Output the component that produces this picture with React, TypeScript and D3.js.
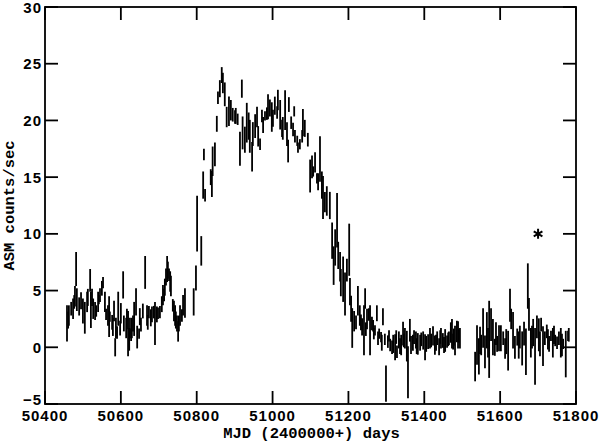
import React from "react";
import * as d3 from "d3";

// ASM one-day averages (MJD, rate, 1-sigma error)
const MJD = [
  50458, 50461, 50463, 50469, 50474, 50477, 50479, 50482, 50484, 50490,
  50495, 50500, 50505, 50511, 50513, 50519, 50521, 50524, 50527, 50532,
  50535, 50540, 50542, 50545, 50550, 50553, 50558, 50561, 50566, 50569,
  50571, 50577, 50579, 50582, 50585, 50587, 50590, 50593, 50598, 50600,
  50606, 50608, 50614, 50616, 50619, 50622, 50624, 50627, 50629, 50632,
  50635, 50640, 50643, 50648, 50650, 50653, 50658, 50664, 50669, 50671,
  50674, 50679, 50682, 50687, 50690, 50695, 50698, 50703, 50708, 50711,
  50714, 50716, 50719, 50722, 50724, 50727, 50730, 50732, 50737, 50740,
  50743, 50745, 50748, 50751, 50753, 50756, 50761, 50764, 50769, 50792,
  50798, 50801, 50812, 50817, 50819, 50822, 50837, 50840, 50842, 50848,
  50853, 50856, 50861, 50866, 50869, 50874, 50879, 50885, 50890, 50895,
  50901, 50903, 50908, 50914, 50919, 50921, 50927, 50932, 50937, 50940,
  50946, 50948, 50954, 50959, 50962, 50967, 50972, 50975, 50980, 50985,
  50988, 50993, 50998, 51001, 51006, 51012, 51014, 51020, 51025, 51027,
  51033, 51038, 51041, 51043, 51049, 51054, 51057, 51059, 51065, 51067,
  51072, 51078, 51080, 51085, 51093, 51099, 51104, 51107, 51112, 51117,
  51120, 51125, 51130, 51133, 51138, 51143, 51151, 51157, 51161, 51165,
  51170, 51173, 51178, 51180, 51186, 51191, 51196, 51202, 51204, 51207,
  51210, 51215, 51220, 51225, 51230, 51236, 51241, 51244, 51249, 51254,
  51257, 51262, 51265, 51270, 51275, 51281, 51286, 51291, 51296, 51299,
  51304, 51310, 51315, 51323, 51328, 51333, 51339, 51344, 51349, 51354,
  51357, 51362, 51370, 51378, 51383, 51389, 51397, 51402, 51410, 51415,
  51423, 51428, 51434, 51439, 51444, 51449, 51455, 51460, 51465, 51470,
  51473, 51478, 51481, 51486, 51489, 51494, 51534, 51539, 51544, 51550,
  51555, 51560, 51565, 51571, 51576, 51581, 51586, 51592, 51597, 51602,
  51608, 51613, 51621, 51626, 51629, 51634, 51639, 51645, 51652, 51658,
  51663, 51668, 51673, 51676, 51681, 51687, 51692, 51697, 51702, 51708,
  51713, 51718, 51723, 51729, 51734, 51739, 51745, 51750, 51755, 51760,
  51766, 51773, 51779, 51781,
  // extra days in the dense low-state stretches
  51233, 51246, 51267, 51278, 51288, 51307, 51318, 51326, 51336, 51346,
  51365, 51373, 51380, 51392, 51405, 51418, 51431, 51442, 51452, 51463,
  51476, 51491, 51547, 51568, 51589, 51616, 51649, 51684, 51705, 51726,
  51742, 51763,
];

const RATE = [
  2.1, 2.4, 2.8, 3.4, 3.4, 4.0, 4.5, 6.9, 4.2, 3.6,
  4.1, 3.2, 2.6, 4.0, 4.4, 5.9, 3.3, 4.4, 3.4, 3.2,
  3.2, 4.0, 4.2, 4.6, 5.2, 5.7, 4.0, 2.9, 2.8, 2.7,
  2.7, 2.2, 1.8, 3.2, 0.0, 1.7, 1.3, 3.4, 1.7, 3.0,
  5.5, 2.1, 1.7, 2.5, 1.2, 0.7, 1.7, 1.1, 1.7, 2.1,
  2.5, 4.0, 0.9, 1.2, 2.7, 2.0, 3.2, 6.6, 2.8, 2.2,
  3.1, 2.6, 2.9, 3.1, 2.1, 2.9, 3.0, 3.1, 3.8, 4.6,
  4.6, 5.3, 6.2, 6.9, 6.8, 6.4, 5.8, 5.4, 3.7, 3.2,
  2.8, 2.4, 2.1, 1.4, 2.1, 2.8, 2.8, 3.7, 3.9, 4.0,
  6.1, 10.9, 8.5, 14.3, 17.0, 13.4, 15.0, 14.4, 16.4, 17.0,
  19.7, 22.0, 22.8, 24.0, 23.3, 22.3, 20.3, 20.8, 20.9, 20.5,
  20.3, 20.4, 20.1, 17.5, 22.8, 18.9, 18.3, 19.8, 19.5, 18.6,
  16.8, 18.8, 19.5, 20.3, 18.6, 17.9, 20.4, 19.6, 20.4, 20.6,
  21.2, 21.1, 20.3, 20.2, 21.3, 20.7, 21.8, 20.5, 19.3, 19.3,
  20.9, 18.8, 17.3, 21.4, 19.8, 19.2, 20.8, 18.6, 18.2, 17.6,
  17.9, 18.6, 19.8, 19.3, 18.3, 15.1, 15.9, 15.5, 16.3, 14.9,
  14.6, 16.6, 14.3, 13.2, 12.8, 12.9, 12.5, 9.4, 7.2, 8.8,
  11.2, 8.1, 7.1, 5.7, 6.0, 4.7, 6.8, 8.6, 4.9, 3.4,
  1.7, 2.3, 2.2, 4.1, 2.8, 1.8, 1.5, 4.3, 2.5, 2.9,
  1.5, 2.1, 1.9, 1.5, 3.0, 1.2, 0.9, 2.7, 0.7, -3.2,
  0.5, 0.2, 0.0, 0.0, -0.4, 0.65, 0.2, 1.2, 0.8, 0.1,
  -2.2, 1.5, 0.4, 0.65, 0.3, 0.4, 0.6, 0.0, 0.5, 0.8,
  1.0, 0.2, 0.8, 0.05, 0.8, 0.6, 0.6, 0.5, 0.8, 1.3,
  1.2, 0.9, 0.6, 1.4, 1.1, 0.8, -1.7, 0.2, -0.8, 0.2,
  1.7, -0.4, 1.5, 0.7, 2.0, 0.9, 0.0, 0.3, 0.8, 0.8,
  0.8, -0.1, -0.3, 3.7, 2.5, 1.5, 0.0, 0.9, 0.9, -0.1,
  1.2, -0.4, 5.4, 2.9, 0.4, 1.3, -0.8, 1.8, 1.1, 2.0,
  0.1, 0.8, 1.4, 0.3, 1.0, 0.4, 0.6, 0.4, 0.8, 0.4,
  0.3, -0.6, 1.0, 1.1,
  2.2, 1.6, 1.2, 0.8, 0.4, 1.0, 0.3, 0.9, 0.1, 0.6,
  0.2, 0.9, 0.1, 0.7, 0.3, 0.6, 0.4, 0.9, 0.2, 0.7,
  0.5, 1.0, 0.6, 0.4, 1.2, 0.5, 0.2, 0.9, 0.3, 0.7,
  1.1, 0.2,
];

const ERR = [
  1.6, 0.75, 0.9, 0.6, 0.9, 0.6, 0.9, 1.5, 1.0, 0.8,
  0.75, 1.1, 1.4, 0.9, 0.75, 1.0, 1.6, 0.75, 0.9, 0.8,
  0.5, 0.9, 0.4, 0.6, 0.65, 0.5, 0.9, 0.5, 0.9, 1.8,
  0.45, 0.65, 0.8, 0.9, 0.8, 0.9, 0.55, 1.5, 0.65, 0.9,
  1.2, 0.7, 0.9, 0.9, 2.0, 1.0, 0.9, 0.55, 0.9, 0.7,
  1.5, 1.2, 1.0, 0.45, 0.75, 0.6, 0.65, 1.45, 0.9, 0.65,
  0.55, 0.75, 0.7, 0.55, 1.9, 0.7, 0.5, 0.55, 0.7, 0.9,
  0.55, 0.75, 0.75, 1.15, 0.75, 0.55, 0.9, 0.9, 0.55, 0.9,
  0.9, 0.75, 0.7, 0.9, 0.7, 0.9, 0.55, 0.9, 1.3, 1.2,
  1.1, 2.45, 1.3, 1.2, 0.5, 0.55, 0.7, 1.15, 1.3, 1.05,
  0.7, 0.55, 0.75, 0.7, 0.9, 1.05, 0.9, 1.3, 0.9, 0.6,
  0.6, 0.7, 0.5, 1.5, 0.8, 1.45, 1.15, 1.75, 1.2, 1.45,
  1.3, 1.05, 1.05, 0.9, 0.9, 0.5, 0.55, 0.7, 0.4, 0.55,
  1.1, 0.75, 1.3, 0.75, 0.8, 0.55, 0.9, 1.3, 0.75, 1.0,
  1.75, 1.05, 1.0, 0.65, 0.55, 0.6, 0.45, 0.55, 0.45, 0.45,
  0.45, 0.55, 1.2, 0.75, 0.6, 1.45, 1.0, 0.45, 0.9, 0.45,
  0.75, 2.0, 1.2, 1.9, 0.9, 1.3, 1.2, 1.6, 1.7, 1.6,
  2.4, 1.2, 1.3, 1.2, 2.0, 1.9, 1.0, 2.3, 1.2, 1.15,
  1.75, 0.9, 0.6, 1.3, 0.9, 0.75, 2.2, 0.9, 0.9, 0.55,
  2.2, 0.6, 0.5, 0.45, 0.7, 0.45, 0.45, 0.75, 0.5, 1.6,
  0.55, 0.55, 0.6, 1.15, 0.55, 0.75, 0.9, 1.05, 0.9, 1.35,
  2.3, 1.0, 0.7, 0.75, 0.95, 0.7, 0.8, 1.15, 0.65, 0.9,
  0.85, 0.85, 0.6, 0.75, 0.9, 0.65, 1.0, 0.55, 0.6, 0.9,
  1.3, 0.75, 1.3, 0.95, 1.2, 0.9, 1.3, 1.75, 1.6, 0.9,
  1.75, 1.45, 1.6, 3.4, 1.45, 1.6, 0.75, 0.7, 1.15, 1.15,
  0.6, 0.9, 1.75, 1.45, 0.9, 1.6, 1.0, 0.75, 1.0, 1.5,
  1.05, 2.05, 2.0, 1.45, 1.3, 1.2, 2.5, 1.0, 1.45, 0.6,
  1.75, 0.6, 0.6, 0.7, 0.45, 1.3, 0.5, 0.55, 0.6, 1.3,
  0.45, 2.05, 0.45, 0.6,
  0.7, 0.6, 0.5, 0.6, 0.7, 0.5, 0.8, 0.6, 0.7, 0.6,
  0.8, 0.6, 0.7, 0.6, 0.7, 0.6, 0.7, 0.6, 0.7, 0.6,
  0.7, 0.6, 1.2, 1.3, 1.0, 1.1, 1.2, 1.0, 1.1, 0.9,
  0.8, 1.0,
];

const X_TICKS = [50400, 50600, 50800, 51000, 51200, 51400, 51600, 51800];
const Y_TICKS = [-5, 0, 5, 10, 15, 20, 25, 30];

// the flare marker drawn above the light curve
const MARK_MJD = 51700;
const MARK_RATE = 10;

export default function App() {
  const width = 601;
  const height = 447;
  const margin = { top: 7, right: 25, bottom: 43, left: 45 };
  const x0 = margin.left;
  const x1 = width - margin.right;
  const y0 = margin.top;
  const y1 = height - margin.bottom;
  const tick = 13;

  const x = d3.scaleLinear().domain([50400, 51800]).range([x0, x1]);
  const y = d3.scaleLinear().domain([-5, 30]).range([y1, y0]);

  const points = MJD.map((m, i) => ({ m, r: RATE[i], e: ERR[i] }));
  const star = d3.symbol(d3.symbolAsterisk, 70)() || "";

  const tickFont = {
    fontFamily: "'Liberation Sans', Arial, sans-serif",
    fontWeight: 700,
    fontSize: 15,
    letterSpacing: 1,
  } as const;
  const titleFont = {
    fontFamily: "'Liberation Mono', 'Courier New', monospace",
    fontWeight: 700,
    fontSize: 15.5,
  } as const;

  return (
    <svg
      width={width}
      height={height}
      style={{ position: "absolute", left: 0, top: 0, background: "#fff" }}
    >
      <defs>
        <clipPath id="plot">
          <rect x={x0} y={y0} width={x1 - x0} height={y1 - y0} />
        </clipPath>
      </defs>

      <g clipPath="url(#plot)" stroke="#000" strokeWidth={1.8}>
        {points.map((d, i) => (
          <line
            key={i}
            x1={x(d.m)}
            x2={x(d.m)}
            y1={y(d.r + d.e)}
            y2={y(d.r - d.e)}
          />
        ))}
      </g>

      <path
        d={star}
        transform={`translate(${x(MARK_MJD)},${y(MARK_RATE)})`}
        stroke="#000"
        strokeWidth={2}
        fill="none"
      />

      <g stroke="#000" strokeWidth={1.8}>
        <rect x={x0} y={y0} width={x1 - x0} height={y1 - y0} fill="none" />
        {X_TICKS.map((t) => (
          <g key={t}>
            <line x1={x(t)} x2={x(t)} y1={y1} y2={y1 - tick} />
            <line x1={x(t)} x2={x(t)} y1={y0} y2={y0 + tick} />
          </g>
        ))}
        {Y_TICKS.map((t) => (
          <g key={t}>
            <line x1={x0} x2={x0 + tick} y1={y(t)} y2={y(t)} />
            <line x1={x1} x2={x1 - tick} y1={y(t)} y2={y(t)} />
          </g>
        ))}
      </g>

      <g style={tickFont} fill="#000">
        {X_TICKS.map((t) => (
          <text key={t} x={x(t)} y={y1 + 17} textAnchor="middle">
            {t}
          </text>
        ))}
        {Y_TICKS.map((t) => (
          <text
            key={t}
            x={x0 - 3}
            y={t < 0 ? y(t) - 5 : y(t)}
            textAnchor="end"
            dominantBaseline="central"
          >
            {t < 0 ? `\u2212${Math.abs(t)}` : t}
          </text>
        ))}
      </g>

      <text x={(x0 + x1) / 2 + 1} y={y1 + 34} textAnchor="middle" style={titleFont}>
        MJD (2400000+) days
      </text>
      <text
        transform={`translate(14,${(y0 + y1) / 2}) rotate(-90)`}
        textAnchor="middle"
        style={titleFont}
      >
        ASM counts/sec
      </text>
    </svg>
  );
}
